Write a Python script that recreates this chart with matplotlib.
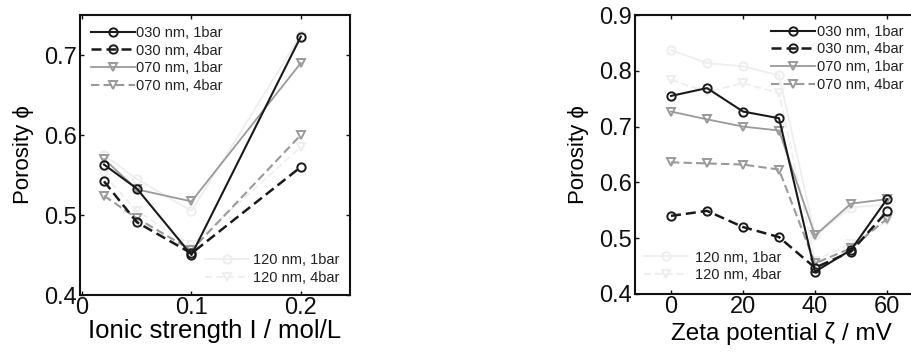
import matplotlib
matplotlib.use("Agg")
import matplotlib.pyplot as plt

plt.rcParams['font.family'] = ['Liberation Sans', 'DejaVu Sans']

# ---- Left panel: ionic strength ----
ionic = [0.02, 0.05, 0.1, 0.2]
ion_030_1 = [0.563, 0.533, 0.450, 0.723]
ion_030_4 = [0.542, 0.491, 0.452, 0.560]
ion_070_1 = [0.570, 0.532, 0.517, 0.690]
ion_070_4 = [0.524, 0.496, 0.456, 0.600]
ion_120_1 = [0.575, 0.545, 0.505, 0.725]
ion_120_4 = [0.550, 0.505, 0.462, 0.585]

# ---- Right panel: zeta potential ----
zeta = [0, 10, 20, 30, 40, 50, 60]
z_030_1 = [0.755, 0.769, 0.727, 0.715, 0.440, 0.479, 0.570]
z_030_4 = [0.540, 0.549, 0.520, 0.502, 0.447, 0.476, 0.548]
z_070_1 = [0.727, 0.713, 0.700, 0.693, 0.505, 0.562, 0.570]
z_070_4 = [0.636, 0.634, 0.632, 0.623, 0.455, 0.482, 0.535]
z_120_1 = [0.837, 0.814, 0.808, 0.792, 0.505, 0.555, 0.560]
z_120_4 = [0.784, 0.762, 0.778, 0.760, 0.460, 0.490, 0.530]

labels = ['030 nm, 1bar', '030 nm, 4bar', '070 nm, 1bar', '070 nm, 4bar',
          '120 nm, 1bar', '120 nm, 4bar']

BLACK = '#1a1a1a'
GRAY = '#9a9a9a'
LIGHT = '#eeeeee'

styles = [
    dict(color=BLACK, ls='-', marker='o', lw=1.5),
    dict(color=BLACK, ls=(0, (4, 2)), marker='o', lw=1.8),
    dict(color=GRAY, ls='-', marker='v', lw=1.3),
    dict(color=GRAY, ls=(0, (4, 2)), marker='v', lw=1.5),
    dict(color=LIGHT, ls='-', marker='o', lw=1.3),
    dict(color=LIGHT, ls=(0, (4, 2)), marker='v', lw=1.3),
]

fig = plt.figure(figsize=(9.11, 3.52), dpi=100)
W, H = 911, 352

def ax_at(l, t, r, b):
    return fig.add_axes([l / W, 1 - b / H, (r - l) / W, (b - t) / H])

def style_axes(ax):
    for s in ax.spines.values():
        s.set_linewidth(1.5)
        s.set_color('#111111')
    ax.tick_params(direction='in', length=3, width=1, top=True, right=True,
                   labelsize=17, pad=1.5, colors='#111111')
    ax.tick_params(axis='y', pad=2.5)

def draw(ax, x, series):
    order = [4, 5, 2, 3, 1, 0]
    handles = [None] * 6
    for i in order:
        st = styles[i]
        ln, = ax.plot(x, series[i], color=st['color'], ls=st['ls'], lw=st['lw'],
                      marker=st['marker'], markersize=6, markerfacecolor='none',
                      markeredgecolor=st['color'], markeredgewidth=1.4,
                      label=labels[i])
        handles[i] = ln
    return handles

LEGFS = 10.5

# Left axes
ax1 = ax_at(80, 15, 350, 295)
h1 = draw(ax1, ionic, [ion_030_1, ion_030_4, ion_070_1, ion_070_4, ion_120_1, ion_120_4])
ax1.set_xlim(-0.002, 0.245)
ax1.set_ylim(0.4, 0.75)
ax1.set_xticks([0, 0.1, 0.2])
ax1.set_xticklabels(['0', '0.1', '0.2'])
ax1.set_yticks([0.4, 0.5, 0.6, 0.7])
ax1.set_yticklabels(['0.4', '0.5', '0.6', '0.7'])
style_axes(ax1)
ax1.set_xlabel('Ionic strength I / mol/L', fontsize=18.5, labelpad=0)
ax1.set_ylabel('Porosity ϕ', fontsize=16, labelpad=7)
leg1 = ax1.legend(handles=h1[:4], loc='upper left', bbox_to_anchor=(0.0, 1.0),
                  frameon=False, fontsize=LEGFS, handlelength=3.0, labelspacing=0.25,
                  handletextpad=0.1, borderaxespad=0.35, labelcolor='#222222')
ax1.add_artist(leg1)
ax1.legend(handles=h1[4:], loc='lower right', frameon=False, fontsize=LEGFS,
           handlelength=3.0, labelspacing=0.25, handletextpad=0.3,
           borderaxespad=0.3, labelcolor='#222222')

# Right axes (extends past the right edge of the figure)
ax2 = ax_at(635, 15, 959, 294)
h2 = draw(ax2, zeta, [z_030_1, z_030_4, z_070_1, z_070_4, z_120_1, z_120_4])
ax2.set_xlim(-10, 80)
ax2.set_ylim(0.4, 0.9)
ax2.set_xticks([0, 20, 40, 60])
ax2.set_xticklabels(['0', '20', '40', '60'])
ax2.set_yticks([0.4, 0.5, 0.6, 0.7, 0.8, 0.9])
ax2.set_yticklabels(['0.4', '0.5', '0.6', '0.7', '0.8', '0.9'])
style_axes(ax2)
ax2.set_xlabel('Zeta potential ζ / mV', fontsize=17.5, labelpad=0)
ax2.xaxis.set_label_coords((781 - 635) / 324, -0.1)
ax2.xaxis.label.set_verticalalignment('top')
ax2.set_ylabel('Porosity ϕ', fontsize=16, labelpad=7)
leg2 = ax2.legend(handles=h2[:4], loc='upper right',
                  bbox_to_anchor=(909 / W, 1 - 19 / H), bbox_transform=fig.transFigure,
                  frameon=False, fontsize=LEGFS, handlelength=3.0, labelspacing=0.25,
                  handletextpad=0.1, borderaxespad=0.0, labelcolor='#222222')
ax2.add_artist(leg2)
ax2.legend(handles=h2[4:], loc='lower left',
           bbox_to_anchor=(638 / W, 1 - 288 / H), bbox_transform=fig.transFigure,
           frameon=False, fontsize=LEGFS, handlelength=3.0, labelspacing=0.25,
           handletextpad=0.5, borderaxespad=0.0, labelcolor='#222222')

fig.savefig('out.png', dpi=100)
